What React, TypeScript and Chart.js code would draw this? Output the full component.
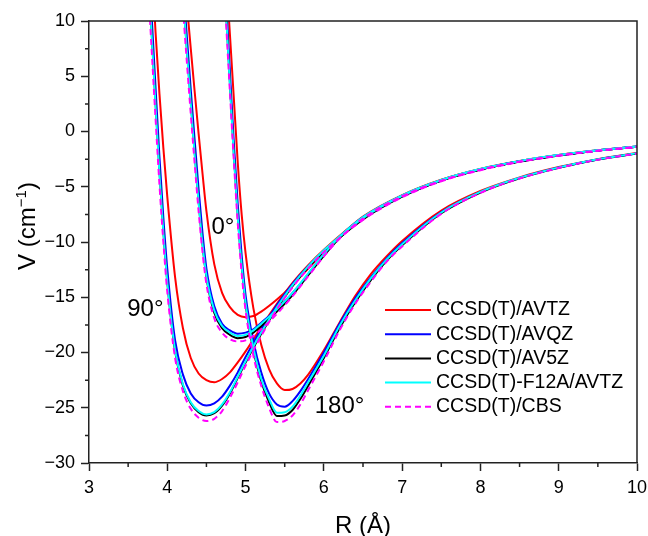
import React, { useEffect, useRef } from 'react';
import { Chart, registerables } from 'chart.js';
Chart.register(...registerables);

// ---------- data ----------
const METHODS = ['CCSD(T)/AVTZ', 'CCSD(T)/AVQZ', 'CCSD(T)/AV5Z', 'CCSD(T)-F12A/AVTZ', 'CCSD(T)/CBS'];
const ANGLES = ['90°', '0°', '180°'];

const R_90 = [3.75, 3.8, 3.85, 3.9, 3.95, 4.0, 4.1, 4.2, 4.3, 4.4, 4.5, 4.6, 4.7, 4.8, 4.9, 5.0, 5.2, 5.4, 5.6, 5.8, 6.0, 6.5, 7.0, 7.5, 8.0, 8.5, 9.0, 9.5, 10.0];
const AVTZ_90 = [22.0, 15.5, 9.0, 3.4, -1.5, -5.9, -13.2, -17.8, -20.5, -21.9, -22.5, -22.7, -22.4, -21.8, -20.9, -19.9, -17.7, -15.6, -13.7, -12.1, -10.7, -7.8, -5.8, -4.38, -3.4, -2.68, -2.13, -1.7, -1.36];
const AVQZ_90 = [17.0, 10.5, 4.0, -2.3, -7.8, -12.4, -18.9, -22.0, -23.7, -24.5, -24.8, -24.6, -24.0, -23.0, -21.8, -20.4, -17.9, -15.7, -13.8, -12.2, -10.8, -7.9, -5.88, -4.43, -3.43, -2.7, -2.15, -1.72, -1.37];
const AV5Z_90 = [15.5, 9.0, 2.6, -3.6, -9.0, -13.6, -19.9, -23.0, -24.6, -25.4, -25.7, -25.5, -24.8, -23.7, -22.3, -20.9, -18.3, -16.0, -14.0, -12.3, -10.85, -7.95, -5.9, -4.45, -3.45, -2.72, -2.17, -1.73, -1.38];
const F12_90 = [15.2, 8.8, 2.4, -3.8, -9.1, -13.6, -19.8, -22.9, -24.5, -25.3, -25.6, -25.4, -24.7, -23.6, -22.2, -20.8, -18.2, -15.9, -13.9, -12.2, -10.75, -7.85, -5.83, -4.4, -3.4, -2.68, -2.13, -1.7, -1.35];
const CBS_90 = [13.8, 7.5, 1.2, -4.8, -10.0, -14.5, -20.5, -23.5, -25.1, -25.9, -26.2, -26.0, -25.3, -24.1, -22.7, -21.2, -18.5, -16.1, -14.1, -12.4, -10.9, -8.0, -5.95, -4.5, -3.5, -2.75, -2.2, -1.75, -1.4];

const R_0 = [4.2, 4.25, 4.3, 4.35, 4.4, 4.45, 4.5, 4.6, 4.7, 4.8, 4.9, 5.0, 5.1, 5.2, 5.4, 5.6, 5.8, 6.0, 6.2, 6.5, 7.0, 7.5, 8.0, 8.5, 9.0, 9.5, 10.0];
const AVTZ_0 = [15.5, 11.5, 7.5, 3.6, -0.2, -3.8, -7.2, -12.0, -14.6, -15.9, -16.6, -16.8, -16.7, -16.3, -15.2, -13.9, -12.4, -10.9, -9.5, -7.7, -5.75, -4.36, -3.38, -2.67, -2.12, -1.7, -1.35];
const AVQZ_0 = [13.5, 8.6, 3.8, -0.8, -5.2, -9.2, -12.4, -15.8, -17.4, -18.0, -18.3, -18.2, -17.9, -17.3, -16.1, -14.6, -12.9, -11.1, -9.55, -7.75, -5.8, -4.4, -3.42, -2.69, -2.14, -1.71, -1.36];
const AV5Z_0 = [12.5, 7.5, 2.7, -1.9, -6.3, -10.2, -13.2, -16.4, -17.8, -18.4, -18.7, -18.6, -18.2, -17.6, -16.3, -14.8, -13.0, -11.25, -9.65, -7.82, -5.83, -4.43, -3.44, -2.71, -2.16, -1.72, -1.37];
const F12_0 = [12.3, 7.3, 2.5, -2.1, -6.4, -10.2, -13.1, -16.2, -17.6, -18.2, -18.5, -18.4, -18.0, -17.4, -16.1, -14.6, -12.85, -11.1, -9.55, -7.75, -5.78, -4.39, -3.4, -2.68, -2.13, -1.7, -1.35];
const CBS_0 = [11.2, 6.3, 1.6, -2.9, -7.2, -10.9, -13.8, -16.9, -18.2, -18.8, -19.0, -18.9, -18.5, -17.9, -16.5, -14.9, -13.1, -11.3, -9.7, -7.85, -5.85, -4.45, -3.45, -2.72, -2.17, -1.73, -1.38];

const R_180 = [4.7, 4.75, 4.8, 4.85, 4.9, 4.95, 5.0, 5.1, 5.2, 5.3, 5.4, 5.5, 5.6, 5.7, 5.8, 6.0, 6.2, 6.4, 6.6, 6.8, 7.0, 7.5, 8.0, 8.5, 9.0, 9.5, 10.0];
const AVTZ_180 = [20.5, 14.5, 8.8, 3.0, -2.8, -7.5, -11.0, -16.0, -19.3, -21.5, -22.8, -23.4, -23.3, -22.8, -22.0, -19.8, -17.3, -14.9, -12.9, -11.3, -9.9, -7.15, -5.38, -4.15, -3.22, -2.5, -1.95];
const AVQZ_180 = [19.0, 12.0, 5.4, -1.0, -6.6, -11.2, -14.8, -19.0, -21.8, -23.7, -24.7, -24.9, -24.4, -23.5, -22.4, -20.0, -17.4, -15.1, -13.2, -11.5, -10.1, -7.3, -5.47, -4.2, -3.26, -2.53, -1.98];
const AV5Z_180 = [18.0, 11.0, 4.4, -2.0, -7.6, -12.1, -15.6, -19.8, -22.6, -24.5, -25.75, -25.7, -25.2, -24.2, -23.0, -20.5, -17.8, -15.45, -13.45, -11.7, -10.3, -7.4, -5.52, -4.23, -3.28, -2.54, -1.99];
const F12_180 = [17.8, 10.8, 4.2, -2.2, -7.7, -12.1, -15.5, -19.6, -22.4, -24.2, -25.45, -25.4, -24.9, -23.9, -22.7, -20.3, -17.6, -15.3, -13.3, -11.6, -10.2, -7.33, -5.47, -4.19, -3.25, -2.52, -1.97];
const CBS_180 = [17.0, 10.0, 3.6, -2.6, -8.3, -12.8, -16.2, -20.3, -23.0, -25.0, -26.3, -26.2, -25.7, -24.7, -23.4, -20.8, -18.0, -15.6, -13.6, -11.8, -10.4, -7.45, -5.55, -4.25, -3.3, -2.55, -2.0];

const X_TICKS = [3, 4, 5, 6, 7, 8, 9, 10];
const Y_TICKS = [-30, -25, -20, -15, -10, -5, 0, 5, 10];

// label anchors (data coordinates) for the angle annotations
const ANGLE_LABEL_X = [3.72, 4.71, 6.2];
const ANGLE_LABEL_Y = [-16.1, -8.7, -24.85];

// ---------- styles ----------
const COLORS = ['#ff0000', '#0000ff', '#000000', '#00ffff', '#ff00ff'];
const DASHES: number[][] = [[], [], [], [], [6, 4]];
const FONT = '"Liberation Sans", Arial, sans-serif';

const GRIDS = [R_90, R_0, R_180];
const SERIES = [
  [AVTZ_90, AVTZ_0, AVTZ_180],
  [AVQZ_90, AVQZ_0, AVQZ_180],
  [AV5Z_90, AV5Z_0, AV5Z_180],
  [F12_90, F12_0, F12_180],
  [CBS_90, CBS_0, CBS_180],
];

const fmt = (v: number) => (v < 0 ? '\u2212' + Math.abs(v) : String(v));

const overlay = {
  id: 'overlay',
  afterDatasetsDraw(chart: any) {
    const { ctx, chartArea: a, scales } = chart;
    const xs = scales.x, ys = scales.y;
    ctx.save();
    // frame top / right
    ctx.strokeStyle = '#222';
    ctx.lineWidth = 1.5;
    ctx.beginPath();
    ctx.moveTo(a.left, a.top);
    ctx.lineTo(a.right, a.top);
    ctx.lineTo(a.right, a.bottom);
    ctx.stroke();
    // minor ticks
    ctx.beginPath();
    for (let i = 0; i < X_TICKS.length - 1; i++) {
      const px = xs.getPixelForValue((X_TICKS[i] + X_TICKS[i + 1]) / 2);
      ctx.moveTo(px, a.bottom);
      ctx.lineTo(px, a.bottom + 4);
    }
    for (let i = 0; i < Y_TICKS.length - 1; i++) {
      const py = ys.getPixelForValue((Y_TICKS[i] + Y_TICKS[i + 1]) / 2);
      ctx.moveTo(a.left, py);
      ctx.lineTo(a.left - 4, py);
    }
    ctx.stroke();

    // angle labels
    ctx.fillStyle = '#000';
    ctx.font = `24px ${FONT}`;
    ctx.textAlign = 'center';
    ctx.textBaseline = 'middle';
    ANGLES.forEach((t, i) => {
      ctx.fillText(t, xs.getPixelForValue(ANGLE_LABEL_X[i]), ys.getPixelForValue(ANGLE_LABEL_Y[i]));
    });

    // legend
    ctx.font = `19.5px ${FONT}`;
    ctx.textAlign = 'left';
    METHODS.forEach((m, i) => {
      const y = 310 + i * 24.2;
      ctx.strokeStyle = COLORS[i];
      ctx.lineWidth = 2;
      ctx.setLineDash(DASHES[i]);
      ctx.beginPath();
      ctx.moveTo(385, y);
      ctx.lineTo(431, y);
      ctx.stroke();
      ctx.setLineDash([]);
      ctx.fillStyle = '#000';
      ctx.fillText(m, 436, y);
    });

    // x axis title
    ctx.font = `24px ${FONT}`;
    ctx.textAlign = 'center';
    ctx.textBaseline = 'alphabetic';
    ctx.fillText('R (Å)', (a.left + a.right) / 2, 533);

    // y axis title with superscript
    ctx.translate(35, 226);
    ctx.rotate(-Math.PI / 2);
    const big = `24px ${FONT}`, small = `15px ${FONT}`;
    ctx.font = big;
    const w1 = ctx.measureText('V (cm').width;
    const w3 = ctx.measureText(')').width;
    ctx.font = small;
    const w2 = ctx.measureText('\u22121').width;
    const x0 = -(w1 + w2 + w3) / 2;
    ctx.textAlign = 'left';
    ctx.font = big;
    ctx.fillText('V (cm', x0, 0);
    ctx.font = small;
    ctx.fillText('\u22121', x0 + w1, -9);
    ctx.font = big;
    ctx.fillText(')', x0 + w1 + w2, 0);
    ctx.restore();
  },
};

export default function App() {
  const ref = useRef<HTMLCanvasElement>(null);
  useEffect(() => {
    const datasets: any[] = [];
    METHODS.forEach((m, mi) => {
      GRIDS.forEach((g, gi) => {
        datasets.push({
          label: `${m} ${ANGLES[gi]}`,
          data: g.map((x, k) => ({ x, y: SERIES[mi][gi][k] })),
          borderColor: COLORS[mi],
          borderWidth: 2,
          borderDash: DASHES[mi],
          pointRadius: 0,
          fill: false,
          cubicInterpolationMode: 'monotone',
          order: 5 - mi,
          clip: 0,
        });
      });
    });
    const tickFont = { family: FONT, size: 18 };
    const chart = new Chart(ref.current as HTMLCanvasElement, {
      type: 'line',
      data: { datasets },
      options: {
        animation: false,
        responsive: false,
        events: [],
        layout: { padding: { left: 0, right: 11, top: 21, bottom: 0 } },
        plugins: { legend: { display: false }, tooltip: { enabled: false } },
        scales: {
          x: {
            type: 'linear',
            min: 3,
            max: 10,
            afterBuildTicks: (s: any) => { s.ticks = X_TICKS.map((v) => ({ value: v })); },
            ticks: { font: tickFont, color: '#000', padding: 6, maxRotation: 0, callback: (v: any) => fmt(Number(v)) },
            grid: { drawOnChartArea: false, tickLength: 8, color: '#222', tickColor: '#222', tickWidth: 1.5 },
            border: { display: true, color: '#222', width: 1.5 },
            afterFit: (s: any) => { s.height = 73; s.paddingLeft = 0; s.paddingRight = 0; },
          },
          y: {
            type: 'linear',
            min: -30,
            max: 10,
            afterBuildTicks: (s: any) => { s.ticks = Y_TICKS.map((v) => ({ value: v })); },
            ticks: { font: tickFont, color: '#000', padding: 6, callback: (v: any) => fmt(Number(v)) },
            grid: { drawOnChartArea: false, tickLength: 8, color: '#222', tickColor: '#222', tickWidth: 1.5 },
            border: { display: true, color: '#222', width: 1.5 },
            afterFit: (s: any) => { s.width = 89; s.paddingTop = 0; s.paddingBottom = 0; },
          },
        },
      } as any,
      plugins: [overlay],
    });
    return () => chart.destroy();
  }, []);
  return (
    <div style={{ position: 'absolute', left: 0, top: 0, width: 648, height: 536, background: '#fff' }}>
      <canvas ref={ref} width={648} height={536} style={{ display: 'block' }} />
    </div>
  );
}
